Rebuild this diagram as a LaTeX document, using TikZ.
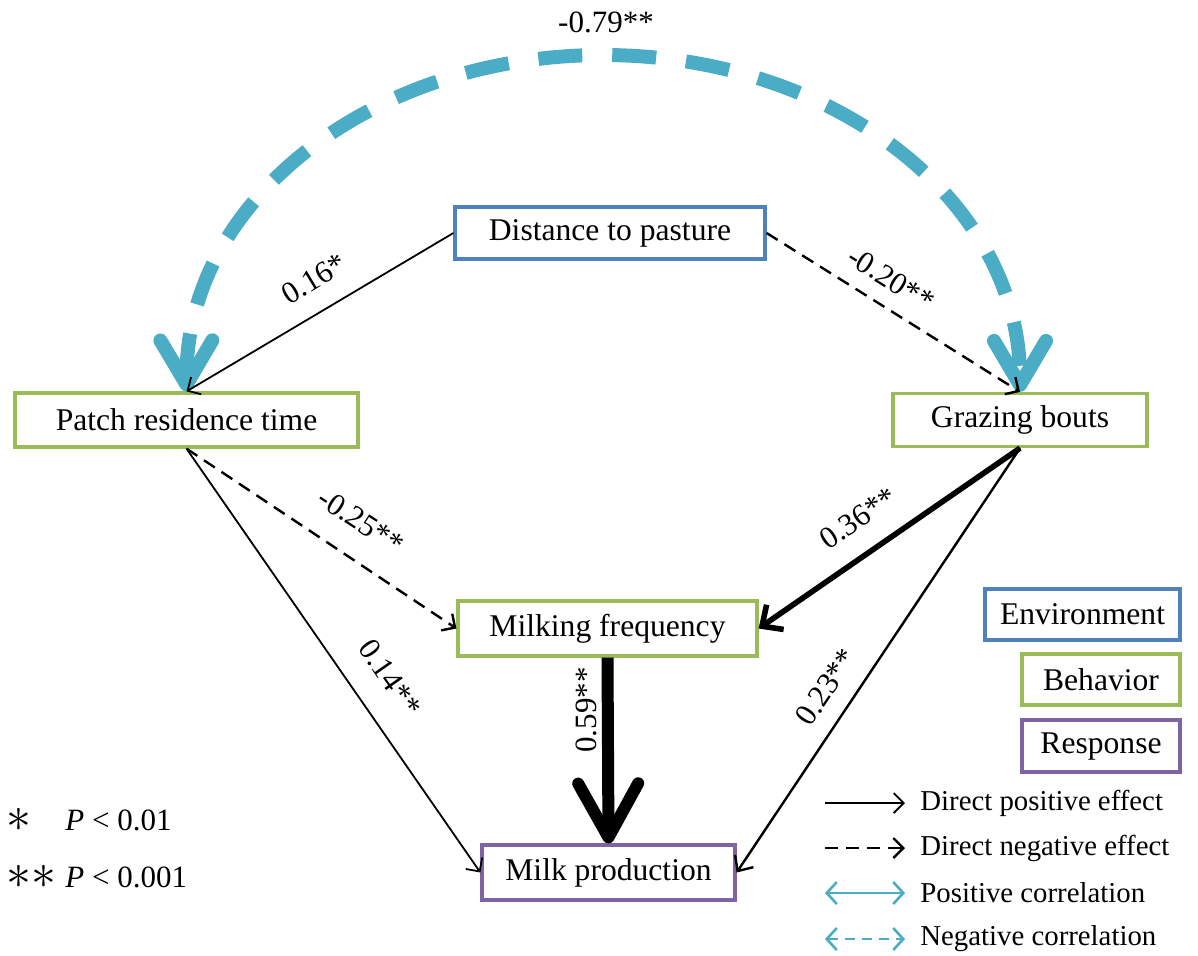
\documentclass[tikz,border=0pt]{standalone}
\usepackage{fontspec}
\setmainfont{Liberation Serif}
\usetikzlibrary{arrows.meta}
\definecolor{envblue}{RGB}{79,129,189}
\definecolor{behgreen}{RGB}{155,187,89}
\definecolor{respurple}{RGB}{128,100,162}
\definecolor{aqua}{RGB}{75,172,198}
\tikzset{
  box/.style={draw, line width=1.6pt, fill=white, inner sep=0pt, font=\fontsize{15.8}{19}\selectfont},
  env/.style={box, draw=envblue},
  beh/.style={box, draw=behgreen},
  res/.style={box, draw=respurple},
  lab/.style={font=\fontsize{15.5}{18}\selectfont, inner sep=1pt},
  legtext/.style={font=\fontsize{14.4}{17}\selectfont, anchor=west, inner sep=0pt},
  eff/.style={draw=black, line width=0.9pt, -{Straight Barb[length=5pt,width=10pt]}},
  negeff/.style={eff, line width=1.2pt, dash pattern=on 6.5pt off 4pt},
  corr/.style={draw=aqua, line width=7pt, dash pattern=on 22pt off 15pt,
    {Straight Barb[length=22pt,width=26pt,round]}-{Straight Barb[length=22pt,width=26pt,round]}},
  legcorr/.style={draw=aqua, line width=1.3pt, {Straight Barb[length=5pt,width=11pt]}-{Straight Barb[length=5pt,width=11pt]}},
}
\begin{document}
\begin{tikzpicture}[x=0.5pt,y=-0.5pt]
\useasboundingbox (0,0) rectangle (1198,955);

% main nodes
\node[env, minimum width=155pt, minimum height=26pt] (dist) at (610,233) {Distance to pasture};
\node[beh, minimum width=171.5pt, minimum height=27pt] (patch) at (186.5,420) {Patch residence time};
\node[beh, minimum width=127pt, minimum height=26.5pt] (graze) at (1020,420) {Grazing bouts};
\node[beh, minimum width=149.5pt, minimum height=27.5pt] (milkf) at (607.5,628.5) {Milking frequency};
\node[res, minimum width=126.5pt, minimum height=27.5pt] (milkp) at (608.5,872.5) {Milk production};

% legend boxes
\node[env, minimum width=97.5pt, minimum height=25.5pt] (lenv) at (1082.5,614.5) {Environment};
\node[beh, minimum width=79pt, minimum height=25.5pt] (lbeh) at (1101,679.5) {Behavior};
\node[res, minimum width=79pt, minimum height=26pt] (lres) at (1101,746) {Response};

% correlation arc
\draw[corr] (patch.north) .. controls (186,200) and (373,55) .. (603,55)
                          .. controls (833,55) and (1020,200) .. (graze.north);

% direct effects
\draw[eff] (dist.west) -- (patch.north);
\draw[negeff] (dist.east) -- (graze.north);
\draw[negeff] (patch.south) -- (milkf.west);
\draw[eff] (patch.south) -- (milkp.west);
\draw[eff, line width=2.8pt, -{Straight Barb[length=8pt,width=15pt]}] (graze.south) -- (milkf.east);
\draw[eff, line width=1.2pt, -{Straight Barb[length=6pt,width=11pt]}] (graze.south) -- (milkp.east);
\draw[eff, line width=6pt, -{Straight Barb[length=27pt,width=30pt,round]}] (milkf.south) -- (milkp.north);

% path labels
\node[lab, rotate=31] (l16) at (314,279) {0.16*};
\node[lab, rotate=-32] (l20) at (891,279) {-0.20**};
\node[lab, rotate=-33] (l25) at (361,521) {-0.25**};
\node[lab, rotate=-55] (l14) at (390,678) {0.14**};
\node[lab, rotate=34] (l36) at (858,518) {0.36**};
\node[lab, rotate=56] (l23) at (826,687) {0.23**};
\node[lab, rotate=90] (l59) at (586,710) {0.59**};
\node[lab] (l79) at (606,22) {-0.79**};

% significance legend
\node[lab, anchor=west] (s1) at (4,820) {\fontsize{24}{24}\selectfont$\ast$};
\node[lab, anchor=west] (s1t) at (63,820) {\textit{P} < 0.01};
\node[lab, anchor=west] (s2) at (4,877) {\fontsize{24}{24}\selectfont${\ast}{\ast}$};
\node[lab, anchor=west] (s2t) at (63,877) {\textit{P} < 0.001};

% arrow legend
\coordinate (a1) at (825,803); \coordinate (b1) at (905,803);
\coordinate (a2) at (825,848); \coordinate (b2) at (905,848);
\coordinate (a3) at (825,893); \coordinate (b3) at (905,893);
\coordinate (a4) at (825,939); \coordinate (b4) at (905,939);
\draw[eff] (a1) -- (b1);
\draw[negeff] (a2) -- (b2);
\draw[legcorr] (a3) -- (b3);
\draw[legcorr, dash pattern=on 5pt off 3.5pt] (a4) -- (b4);
\node[legtext] (t1) at (920,803) {Direct positive effect};
\node[legtext] (t2) at (920,848) {Direct negative effect};
\node[legtext] (t3) at (920,893) {Positive correlation};
\node[legtext] (t4) at (920,939) {Negative correlation};
\end{tikzpicture}
\end{document}
